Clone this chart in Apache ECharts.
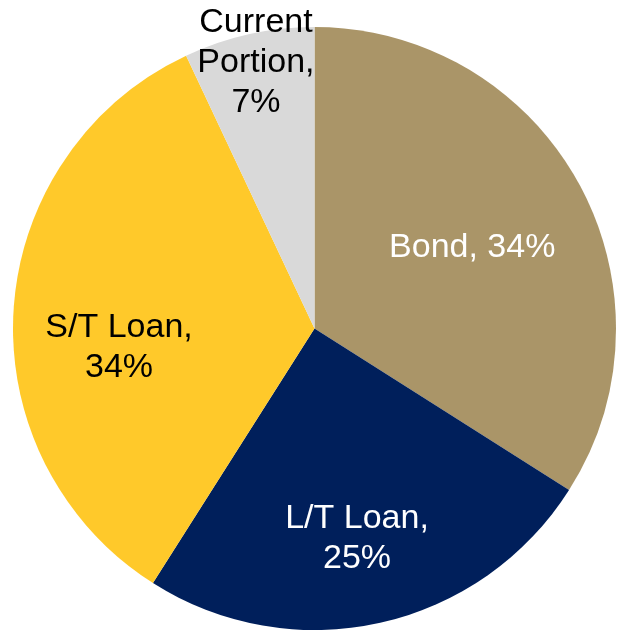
<!DOCTYPE html>
<html>
<head>
<meta charset="utf-8">
<script src="https://cdn.jsdelivr.net/npm/echarts@6/dist/echarts.min.js"></script>
<style>
html,body{margin:0;padding:0;background:#fff;}
#chart{width:617px;height:632px;}
</style>
</head>
<body>
<div id="chart"></div>
<script>
const categories = ['Bond', 'L/T Loan', 'S/T Loan', 'Current\nPortion'];
const values = [34, 25, 34, 7];
const sliceColors = ['#AA9568', '#001F5B', '#FFC92A', '#D9D9D9'];
const labelColors = ['#FFFFFF', '#FFFFFF', '#000000', '#000000'];
const labelBreaks = [' ', '\n', '\n', '\n'];
const labelShift = [[23, -7], [9, 60], [-42, 29], [-25, -116]];

const chart = echarts.init(document.getElementById('chart'), null, {renderer: 'canvas'});
chart.setOption({
  animation: false,
  backgroundColor: '#ffffff',
  series: [{
    type: 'pie',
    center: [314.5, 328.5],
    radius: 301.5,
    startAngle: 90,
    clockwise: true,
    avoidLabelOverlap: false,
    itemStyle: {borderWidth: 0},
    label: {
      show: true,
      position: 'inside',
      fontFamily: 'Liberation Sans, Arial, sans-serif',
      fontSize: 34,
      lineHeight: 40,
      align: 'center'
    },
    labelLine: {show: false},
    emphasis: {disabled: true},
    labelLayout: function (p) {
      const s = labelShift[p.dataIndex];
      return {dx: s[0], dy: s[1]};
    },
    data: categories.map((c, i) => ({
      name: c,
      value: values[i],
      itemStyle: {color: sliceColors[i]},
      label: {
        color: labelColors[i],
        formatter: c + ',' + labelBreaks[i] + values[i] + '%'
      }
    }))
  }]
});
</script>
</body>
</html>
